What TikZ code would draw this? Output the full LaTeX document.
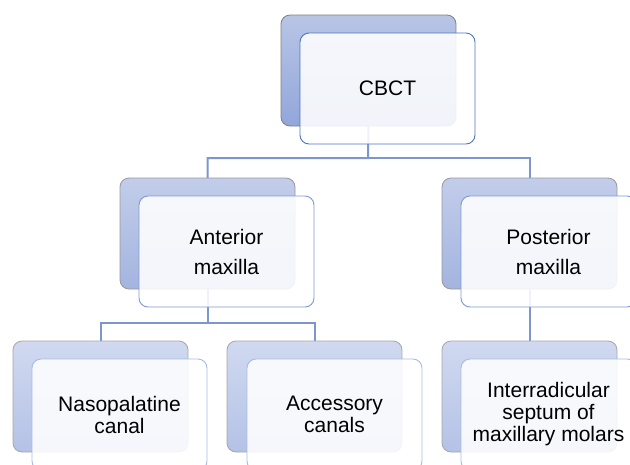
\documentclass[tikz,border=0pt]{standalone}
\usepackage{fontspec}
\setmainfont{Liberation Sans}
\begin{document}
\begin{tikzpicture}[x=1pt,y=-1pt,
  backbox/.style={rectangle, rounded corners=9pt, minimum width=175pt, minimum height=111pt,
    inner sep=0pt, outer sep=0pt, anchor=north west, line width=0.8pt},
  back1/.style={backbox, draw=black!50, top color=c1t, bottom color=c1b},
  back2/.style={backbox, draw=black!40, top color=c2t, bottom color=c2b},
  back3/.style={backbox, draw=black!35, top color=c3t, bottom color=c3b},
  frontbox/.style={rectangle, rounded corners=9pt, minimum width=175pt, minimum height=111pt,
    inner sep=0pt, outer sep=0pt, anchor=north west, line width=0.9pt,
    fill=white, fill opacity=0.88, text opacity=1, align=center, font=\fontsize{21}{22}\selectfont},
  front1/.style={frontbox, draw=f1},
  front2/.style={frontbox, draw=f2, font=\fontsize{21}{30}\selectfont},
  front3/.style={frontbox, draw=f3},
  conn/.style={draw=cc, line width=2pt}]
\definecolor{c1t}{HTML}{B8C5E6}
\definecolor{c1b}{HTML}{92A6DA}
\definecolor{c2t}{HTML}{C2CDEA}
\definecolor{c2b}{HTML}{A3B4DF}
\definecolor{c3t}{HTML}{D0D9F0}
\definecolor{c3b}{HTML}{B4C2E6}
\definecolor{f1}{HTML}{4E74C6}
\definecolor{f2}{HTML}{7F99D6}
\definecolor{f3}{HTML}{A8BBE6}
\definecolor{cc}{HTML}{7E96D0}
\useasboundingbox (0,0) rectangle (630,464);
\clip (0,0) rectangle (630,464);
% back boxes positions (north west corners)
\coordinate (j1) at (368,158);
\coordinate (j2) at (207.5,323);
% connectors first (drawn beneath)
\path (281,15) node[backbox] (cbctb) {};
\path (120,178) node[backbox] (antb) {};
\path (442,178) node[backbox] (postb) {};
\path (13,341) node[backbox] (nasb) {};
\path (227,341) node[backbox] (accb) {};
\path (442,341) node[backbox] (intb) {};
\draw[conn] (cbctb.south) -- (j1) -| (antb.north);
\draw[conn] (j1) -| (postb.north);
\draw[conn] (antb.south) -- (j2) -| (nasb.north);
\draw[conn] (j2) -| (accb.north);
\draw[conn] (postb.south) -- (intb.north);
% back boxes
\node[back1] (cbctbk) at (281,15) {};
\node[back2] (antbk) at (120,178) {};
\node[back2] (postbk) at (442,178) {};
\node[back3] (nasbk) at (13,341) {};
\node[back3] (accbk) at (227,341) {};
\node[back3] (intbk) at (442,341) {};
% front boxes
\node[front1] (cbct) at (300,33) {CBCT};
\node[front2] (ant) at (139,196) {Anterior\\maxilla};
\node[front2] (post) at (461,196) {Posterior\\maxilla};
\node[front3] (nas) at (32,359) {Nasopalatine\\canal};
\node[front3] (acc) at (247,359) {Accessory\\canals};
\node[front3] (int) at (461,359) {Interradicular\\septum of\\maxillary molars};
\end{tikzpicture}
\end{document}
